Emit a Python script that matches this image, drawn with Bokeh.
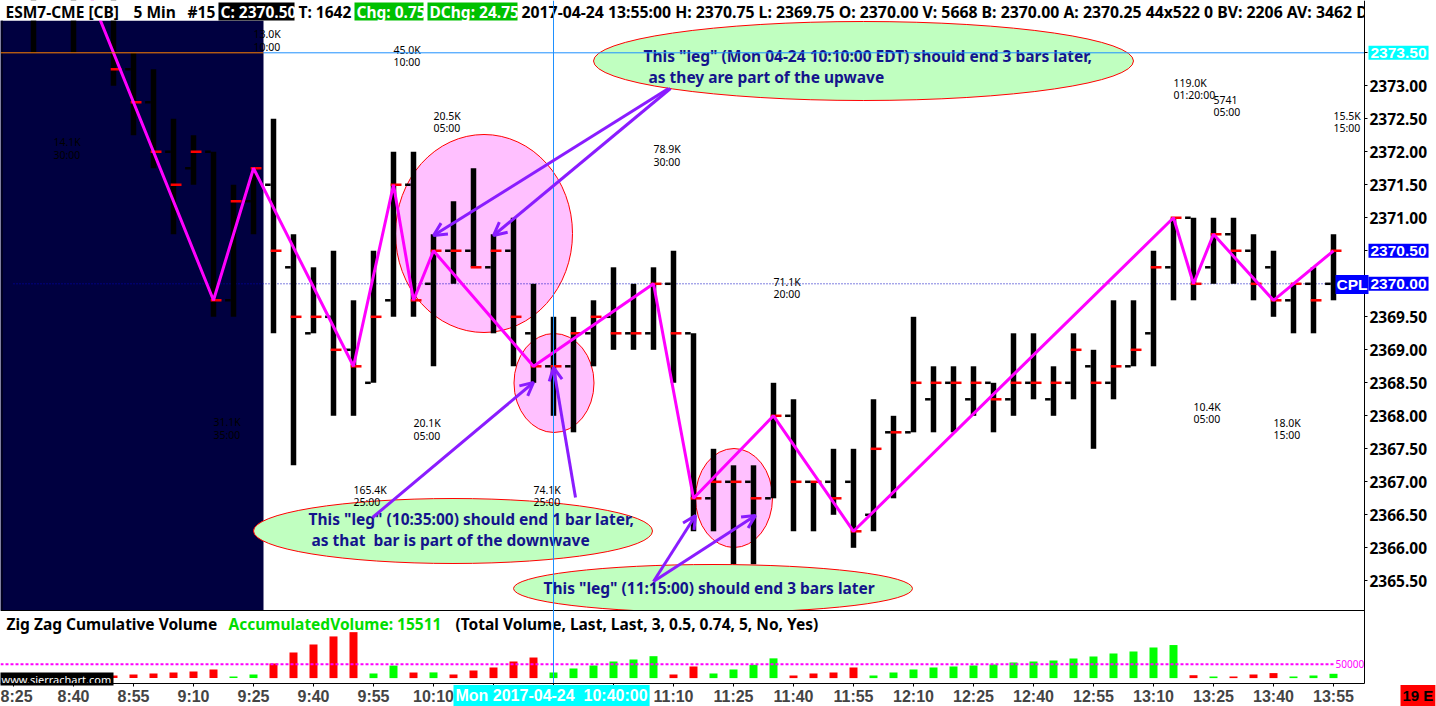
import numpy as np
from bokeh.plotting import figure
from bokeh.models import Range1d, FixedTicker, NumeralTickFormatter, Label, Arrow, OpenHead
from bokeh.core.properties import value
from bokeh.embed import file_html
from bokeh.resources import INLINE

# ---------------- data ----------------
bar_times = ["8:25", "8:30", "8:35", "8:40", "8:45", "8:50", "8:55",
             "9:00", "9:05", "9:10", "9:15", "9:20", "9:25", "9:30", "9:35", "9:40", "9:45", "9:50", "9:55",
             "10:00", "10:05", "10:10", "10:15", "10:20", "10:25", "10:30", "10:35", "10:40", "10:45", "10:50", "10:55",
             "11:00", "11:05", "11:10", "11:15", "11:20", "11:25", "11:30", "11:35", "11:40", "11:45", "11:50", "11:55",
             "12:00", "12:05", "12:10", "12:15", "12:20", "12:25", "12:30", "12:35", "12:40", "12:45", "12:50", "12:55",
             "13:00", "13:05", "13:10", "13:15", "13:20", "13:25", "13:30", "13:35", "13:40", "13:45", "13:50", "13:55"]

opens = [2374.50, 2374.75, 2374.50, 2375.00, 2375.00, 2374.50, 2373.25, 2372.75, 2372.00, 2371.75,
         2372.00, 2369.75, 2371.25, 2371.50, 2370.25, 2369.25, 2369.50, 2369.00, 2368.50, 2369.75,
         2371.50, 2370.00, 2370.50, 2370.50, 2370.25, 2370.50, 2369.25, 2368.75, 2368.75, 2369.25,
         2369.50, 2369.25, 2369.25, 2370.00, 2369.25, 2366.75, 2367.00, 2367.00, 2366.75, 2368.00,
         2367.00, 2367.00, 2367.00, 2366.50, 2367.75, 2367.75, 2368.25, 2368.50, 2368.25, 2368.50,
         2368.25, 2368.50, 2368.25, 2368.50, 2368.75, 2368.50, 2368.75, 2369.25, 2370.25, 2371.00,
         2370.25, 2370.75, 2370.50, 2370.25, 2369.75, 2370.00, 2370.00]
highs = [2375.50, 2375.50, 2375.25, 2375.50, 2375.25, 2374.75, 2373.50, 2373.25, 2372.50, 2372.25,
         2372.00, 2371.50, 2371.75, 2372.50, 2370.75, 2370.25, 2370.50, 2369.75, 2370.50, 2372.00,
         2372.00, 2370.75, 2371.25, 2371.75, 2370.75, 2371.00, 2370.00, 2369.50, 2369.50, 2369.75,
         2370.25, 2370.00, 2370.25, 2370.50, 2369.25, 2367.50, 2367.25, 2367.25, 2368.50, 2368.25,
         2367.00, 2367.50, 2367.50, 2368.25, 2368.00, 2369.50, 2368.75, 2368.75, 2368.75, 2368.50,
         2369.25, 2369.25, 2368.75, 2369.25, 2369.00, 2369.75, 2369.75, 2370.50, 2371.00, 2371.00,
         2371.00, 2371.00, 2370.75, 2370.50, 2370.00, 2370.25, 2370.75]
lows = [2374.50, 2373.50, 2374.50, 2373.50, 2374.50, 2373.00, 2372.25, 2371.75, 2370.75, 2371.50,
        2369.50, 2369.50, 2370.75, 2369.25, 2367.25, 2369.25, 2368.00, 2368.00, 2368.50, 2369.50,
        2369.50, 2368.75, 2370.00, 2370.25, 2369.25, 2368.75, 2368.50, 2368.00, 2367.75, 2368.75,
        2369.00, 2369.00, 2369.00, 2368.50, 2366.25, 2366.25, 2365.75, 2365.75, 2366.75, 2366.25,
        2366.25, 2366.50, 2366.00, 2366.25, 2366.75, 2367.75, 2367.75, 2367.75, 2368.00, 2367.75,
        2368.00, 2368.25, 2368.00, 2368.25, 2367.50, 2368.25, 2368.75, 2368.75, 2369.75, 2369.75,
        2370.00, 2370.00, 2369.75, 2369.50, 2369.25, 2369.25, 2369.75]
closes = [2375.00, 2374.50, 2375.00, 2375.00, 2374.75, 2373.25, 2372.75, 2372.00, 2371.50, 2372.00,
          2369.75, 2371.25, 2371.75, 2370.50, 2369.50, 2369.50, 2369.00, 2368.75, 2369.50, 2371.50,
          2369.75, 2370.50, 2370.50, 2370.25, 2370.50, 2369.50, 2368.75, 2368.75, 2369.25, 2369.50,
          2369.25, 2369.25, 2370.00, 2369.25, 2366.75, 2367.00, 2367.00, 2366.75, 2368.00, 2367.00,
          2367.00, 2366.75, 2366.25, 2367.50, 2367.75, 2368.50, 2368.50, 2368.50, 2368.50, 2368.25,
          2368.50, 2368.50, 2368.50, 2369.00, 2368.50, 2368.75, 2369.00, 2370.25, 2371.00, 2370.00,
          2370.75, 2370.50, 2370.00, 2369.75, 2370.00, 2369.75, 2370.50]
# zig zag cumulative volume per bar
volumes = [7000, 9500, 12000, 14100, 4500, 9400, 13000, 16600, 20200, 23800,
           31100, 5800, 13000, 52600, 92200, 121000, 150000, 165400, 16600, 45000,
           20100, 20500, 13000, 27400, 38200, 59800, 74100, 20200, 34600, 45400,
           59800, 67000, 78900, 13000, 41800, 16600, 31000, 47800, 71100, 9400,
           16600, 20200, 38200, 9400, 20200, 31000, 38200, 41800, 45400, 49000,
           56200, 59800, 63400, 70600, 77800, 88600, 95800, 110200, 119000, 10400,
           5741, 5800, 13000, 18000, 5800, 9400, 15511]
zz_bars = [3, 10, 12, 17, 19, 20, 21, 26, 32, 34, 38, 42, 58, 59, 60, 63, 66]
price_ticks = [2365.5, 2366.0, 2366.5, 2367.0, 2367.5, 2368.0, 2368.5, 2369.0, 2369.5,
               2370.0, 2370.5, 2371.0, 2371.5, 2372.0, 2372.5, 2373.0, 2373.5]
tick_labels = ["8:25", "8:40", "8:55", "9:10", "9:25", "9:40", "9:55", "10:10", "10:25", "10:40", "10:55",
               "11:10", "11:25", "11:40", "11:55", "12:10", "12:25", "12:40", "12:55", "13:10", "13:25",
               "13:40", "13:55"]
leg_bars = [2, 10, 12, 19, 17, 20, 21, 26, 32, 38, 58, 59, 60, 63, 66]
leg_vol_text = ["14.1K", "31.1K", "13.0K", "45.0K", "165.4K", "20.1K", "20.5K", "74.1K", "78.9K",
                "71.1K", "119.0K", "10.4K", "5741", "18.0K", "15.5K"]
leg_dur_text = ["30:00", "35:00", "10:00", "10:00", "25:00", "05:00", "05:00", "25:00", "30:00",
                "20:00", "01:20:00", "05:00", "05:00", "15:00", "15:00"]
crosshair_time = "10:40"
crosshair_price = 2373.5
cpl_price = 2370.0
last_price = closes[-1]
vol_ref_level = 50000

# ---------------- layout helpers (reference pixel -> data) ----------------
def X(px):
    return (px - 13.0) / 20.0

def Y(py):
    return 2370.0 + (283.3 - py) / 66.0

def V(py):
    return (677.6 - py) * 3600.0

FONT = "Noto Sans"
FONT2 = "Liberation Sans"
PURPLE = "#8a1cff"
NAVY_TXT = "#14148c"
W, H = 1436, 706

leg_label_py = [141.7, 421.7, 33.3, 49.0, 489.0, 422.3, 115.0, 489.0, 148.3, 281.0, 82.0, 406.0, 99.0, 422.0, 115.0]

p = figure(width=W, height=H,
           x_range=Range1d(X(0), X(W)), y_range=Range1d(Y(H), Y(0)),
           y_axis_location="right", output_backend="svg", toolbar_location=None,
           min_border=0, min_border_left=0, min_border_top=0, min_border_right=0, min_border_bottom=0,
           background_fill_color="white", border_fill_color="white", outline_line_color=None)
p.extra_y_ranges = {"vol": Range1d(V(H), V(0))}
p.grid.visible = False

ya = p.yaxis[0]
ya.fixed_location = X(1364)
ya.bounds = (Y(683), Y(0))
ya.ticker = FixedTicker(ticks=price_ticks)
ya.formatter = NumeralTickFormatter(format="0.00")
ya.major_label_text_font = FONT
ya.major_label_text_font_style = "bold"
ya.major_label_text_font_size = "15.5px"
ya.major_label_text_color = "black"
ya.major_tick_in = 0
ya.major_tick_out = 3
ya.minor_tick_out = 0
ya.minor_tick_in = 0
ya.major_label_standoff = 2
ya.axis_line_color = "black"

tick_pos = [float(bar_times.index(t)) for t in tick_labels]
xa = p.xaxis[0]
xa.fixed_location = Y(683)
xa.bounds = (X(0), X(1364))
xa.ticker = FixedTicker(ticks=tick_pos)
xa.major_label_overrides = {tp: t for tp, t in zip(tick_pos, tick_labels)}
xa.major_label_text_font = FONT2
xa.major_label_text_font_style = "bold"
xa.major_label_text_font_size = "16px"
xa.major_tick_in = 0
xa.major_tick_out = 3
xa.minor_tick_out = 0
xa.minor_tick_in = 0
xa.major_label_standoff = 1
xa.axis_line_color = "black"


def txt(pxs, pys, texts, color="black", size="15.5px", bold=True, align="left", baseline="middle"):
    p.text(x=[X(v) for v in pxs], y=[Y(v) for v in pys], text=texts,
           text_color=color, text_font=value(FONT), text_font_size=size,
           text_font_style="bold" if bold else "normal", text_align=align, text_baseline=baseline)


idx = np.arange(len(closes), dtype=float)
o = np.array(opens); h = np.array(highs); l = np.array(lows); c = np.array(closes)

# navy session region
p.quad(left=X(-5), right=X(263), bottom=Y(610), top=Y(20), fill_color="#000040", line_color=None)

# pink circles (drawings)
pink = [(483.5, 233, 177, 198), (553.5, 382.5, 80, 99), (733.5, 497.5, 77, 99)]
p.ellipse(x=[X(a[0]) for a in pink], y=[Y(a[1]) for a in pink],
          width=[a[2] / 20.0 for a in pink], height=[a[3] / 66.0 for a in pink],
          fill_color="#ffc0ff", line_color="red", line_width=1)

# CPL dotted line
p.segment(x0=[0], x1=[X(1333)], y0=[cpl_price], y1=[cpl_price], line_color="#0000c0",
          line_dash="1 2", line_width=1)

# OHLC bars
p.segment(x0=idx, x1=idx, y0=l, y1=h, line_color="black", line_width=5.5)
p.segment(x0=idx - 0.42, x1=idx - 0.14, y0=o, y1=o, line_color="black", line_width=2.5)
p.segment(x0=idx - 0.14, x1=idx + 0.40, y0=c, y1=c, line_color="#ff0000", line_width=2.5)

# zig zag
p.line(x=zz_bars, y=[closes[b] for b in zz_bars], line_color="#ff00ff", line_width=3)

# green ellipses (drawings)
green = [(863, 60.5, 540, 79), (452.5, 530.5, 399, 65), (712.5, 588, 399, 48)]
p.ellipse(x=[X(a[0]) for a in green], y=[Y(a[1]) for a in green],
          width=[a[2] / 20.0 for a in green], height=[a[3] / 66.0 for a in green],
          fill_color="#c0ffc0", line_color="red", line_width=1)
txt([643, 648], [55, 76], ["This \"leg\" (Mon 04-24 10:10:00 EDT) should end 3 bars later,",
                           "as they are part of the upwave"], color=NAVY_TXT)
txt([308, 311], [518, 539], ["This \"leg\" (10:35:00) should end 1 bar later,",
                             "as that\u00a0\u00a0bar is part of the downwave"], color=NAVY_TXT)
txt([543], [587], ["This \"leg\" (11:15:00) should end 3 bars later"], color=NAVY_TXT)

# leg labels
p.text(x=leg_bars, y=[Y(v) for v in leg_label_py], text=leg_vol_text, text_color="black",
       text_font=value(FONT), text_font_size="10.5px", text_align="left", text_baseline="middle")
p.text(x=leg_bars, y=[Y(v + 12.7) for v in leg_label_py], text=leg_dur_text, text_color="black",
       text_font=value(FONT), text_font_size="10.5px", text_align="left", text_baseline="middle")

# arrows
arrows = [(668, 88, 433, 235), (670, 88, 493, 235), (372, 517, 533, 382),
          (575, 497, 553, 367), (653, 581, 695, 515), (653, 581, 755, 515)]
for (xs, ys, xe, ye) in arrows:
    p.add_layout(Arrow(end=OpenHead(size=13, line_color=PURPLE, line_width=3),
                       x_start=X(xs), y_start=Y(ys), x_end=X(xe), y_end=Y(ye),
                       line_color=PURPLE, line_width=3))

# header band
p.quad(left=X(-5), right=X(1370), bottom=Y(20), top=Y(-5), fill_color="white", line_color=None)
p.quad(left=[X(218), X(354), X(427)], right=[X(294), X(423), X(517)],
       bottom=[Y(20)] * 3, top=[Y(2)] * 3, fill_color=["black", "#00c000", "#00c000"], line_color=None)
txt([5, 133, 187, 298], [11] * 4, ["ESM7-CME [CB]", "5 Min", "#15", "T: 1642"], color="black")
txt([521], [11],
    ["2017-04-24 13:55:00 H: 2370.75 L: 2369.75 O: 2370.00 V: 5668 B: 2370.00 A: 2370.25 44x522 0 BV: 2206 AV: 3462 DV"],
    color="black", size="15.8px")
txt([220, 356, 429], [11] * 3, ["C: 2370.50", "Chg: 0.75", "DChg: 24.75"], color="white")
# right of the price scale: header is cut off there
p.quad(left=X(1364.5), right=X(W + 5), bottom=Y(H + 5), top=Y(-5), fill_color="white", line_color=None)

# left border
p.segment(x0=[X(1.5)], x1=[X(1.5)], y0=[Y(20)], y1=[Y(683)], line_color="black", line_width=1)

# volume pane
p.quad(left=X(-5), right=X(1364), bottom=Y(683), top=Y(610), fill_color="white", line_color=None)
p.segment(x0=[X(0)], x1=[X(1364)], y0=[Y(610)], y1=[Y(610)], line_color="black", line_width=1)
vol_colors = []
for i in range(len(closes)):
    nxt = next(b for b in zz_bars if b >= i)
    prev = [b for b in zz_bars if b < i]
    if prev:
        up = closes[nxt] > closes[prev[-1]]
    else:
        nn = zz_bars[zz_bars.index(nxt) + 1]
        up = closes[nxt] > closes[nn]
    vol_colors.append("#00ff00" if up else "#ff0000")
p.vbar(x=idx, top=volumes, bottom=0, width=0.4, fill_color=vol_colors, line_color=None, y_range_name="vol")
p.segment(x0=[X(0)], x1=[X(1333)], y0=[vol_ref_level], y1=[vol_ref_level], line_color="#ff00ff",
          line_width=2, line_dash="3 2", y_range_name="vol")
p.text(x=[X(1335)], y=[vol_ref_level], text=[str(vol_ref_level)], text_color="#ff00ff",
       text_font=value(FONT), text_font_size="10px", text_align="left", text_baseline="middle",
       y_range_name="vol")
txt([6, 228, 455], [623] * 3, ["Zig Zag Cumulative Volume", "AccumulatedVolume: " + str(volumes[-1]),
                               "(Total Volume, Last, Last, 3, 0.5, 0.74, 5, No, Yes)"],
    color=["black", "#00dd00", "black"])
p.quad(left=[X(-5)], right=[X(113)], bottom=[Y(685)], top=[Y(672)], fill_color="black", line_color=None)
txt([1], [678.5], ["www.sierrachart.com"], color="white", size="11px", bold=False)

# crosshair
xh = float(bar_times.index(crosshair_time))
p.segment(x0=[X(0)], x1=[X(263)], y0=[crosshair_price], y1=[crosshair_price], line_color="#ff8000", line_width=1)
p.segment(x0=[X(263)], x1=[X(1364)], y0=[crosshair_price], y1=[crosshair_price], line_color="#1e90ff", line_width=1)
p.segment(x0=[xh], x1=[xh], y0=[Y(0)], y1=[Y(690)], line_color="#1e90ff", line_width=1)


# CPL and price/time flags
def flag(px, py, s, bg, fg="white", size="15.5px", pad=1):
    p.add_layout(Label(x=X(px), y=Y(py), text=s, text_color=fg, text_font=FONT2, text_font_size=size,
                       text_font_style="bold", text_align="left", text_baseline="middle",
                       background_fill_color=bg, padding=pad))


def py_of(price):
    return 283.3 - (price - 2370.0) * 66.0


flag(1335, 284, "CPL", "#0000ff")
flag(1368, py_of(crosshair_price), "%.2f" % crosshair_price, "#00ffff", pad=2)
flag(1368, py_of(last_price), "%.2f" % last_price, "#0000ff", pad=2)
flag(1368, py_of(cpl_price), "%.2f" % cpl_price, "#0000ff", pad=2)
flag(453, 695, "Mon 2017-04-24\u00a0\u00a010:40:00", "#00ffff", size="16px", pad=2)
flag(1400, 695, "19 E", "#ff0000", fg="black", size="15px", pad=2)

open("out.html", "w").write(file_html(p, INLINE))
